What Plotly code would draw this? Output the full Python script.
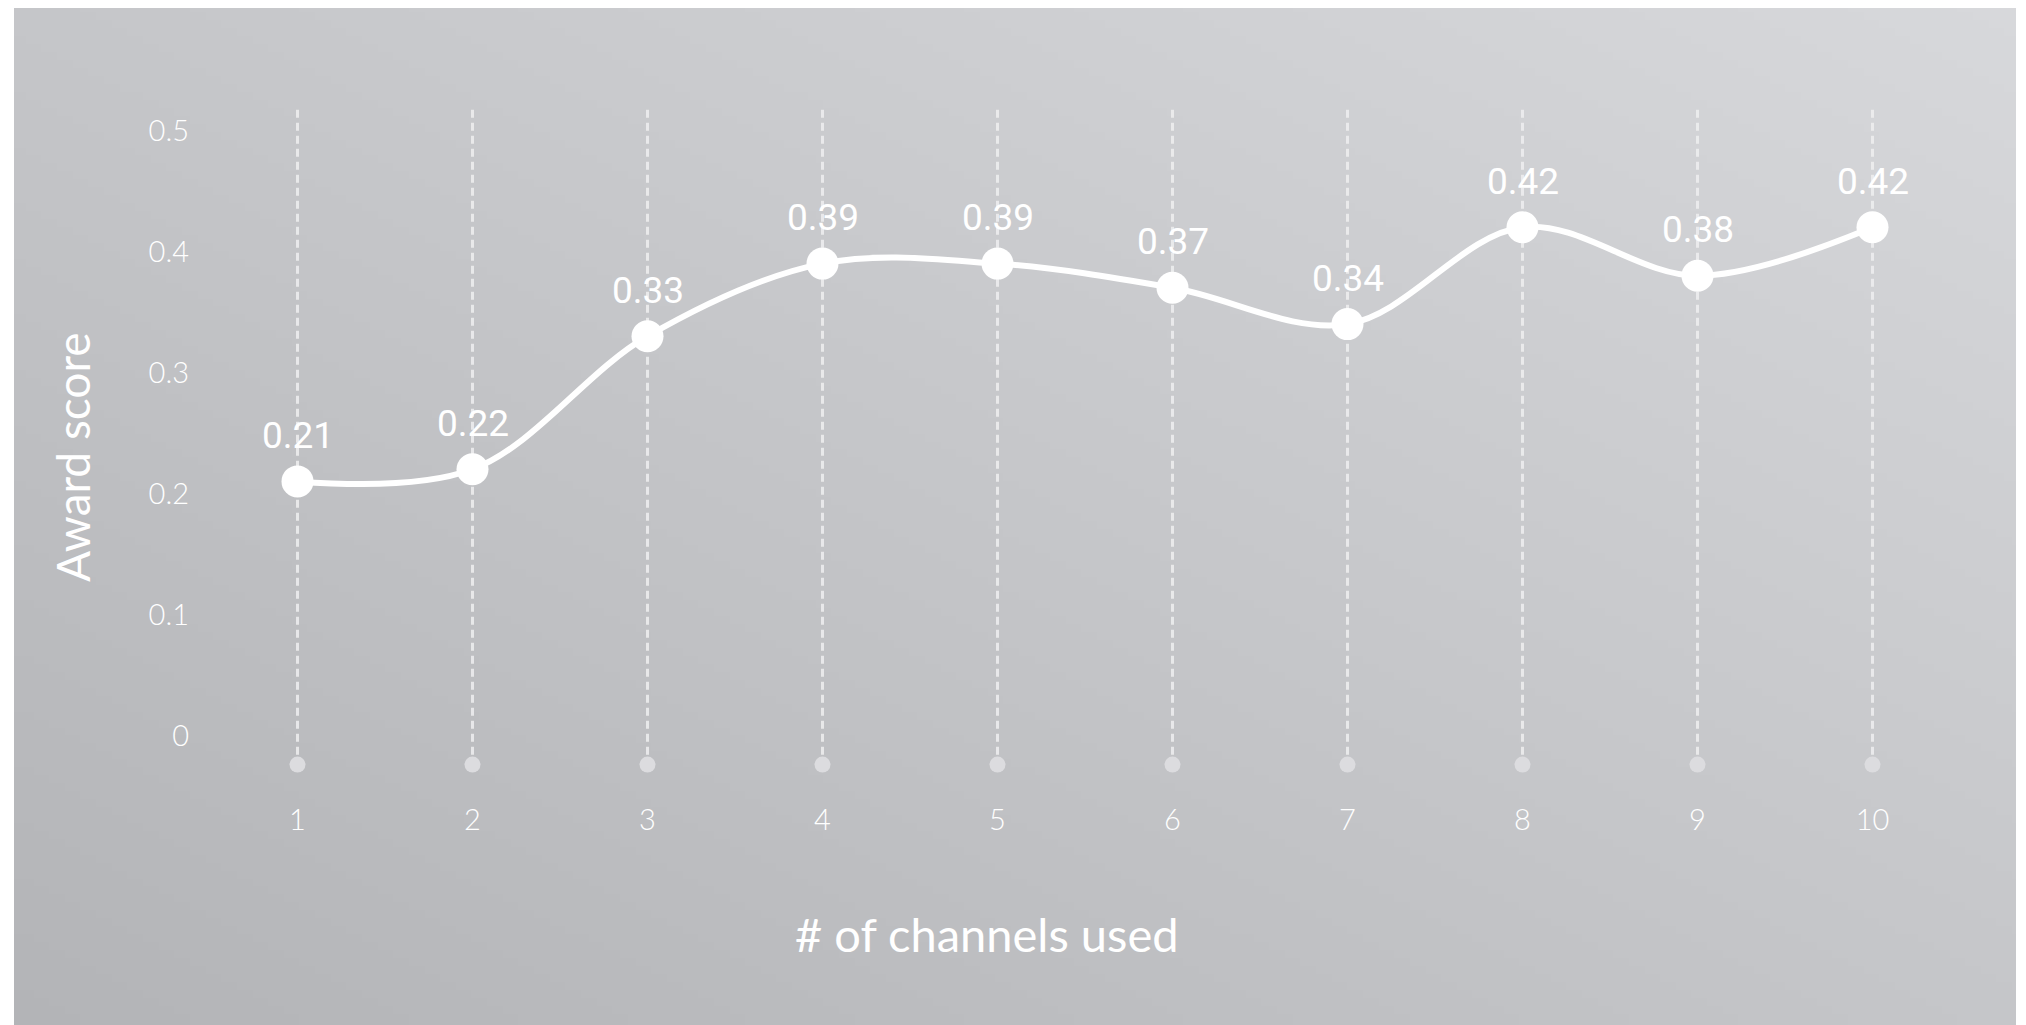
import base64
import struct
import zlib

import plotly.graph_objects as go

# Award score by number of channels used
channels = [1, 2, 3, 4, 5, 6, 7, 8, 9, 10]
award_score = [0.21, 0.22, 0.33, 0.39, 0.39, 0.37, 0.34, 0.42, 0.38, 0.42]
y_ticks = [0, 0.1, 0.2, 0.3, 0.4, 0.5]
y_tick_text = ["0", "0.1", "0.2", "0.3", "0.4", "0.5"]

W, H = 2026, 1025
M_L, M_R, M_T, M_B = 210, 66, 70, 229
PLOT_W = W - M_L - M_R
PLOT_H = H - M_T - M_B


def px_to_paper_x(px):
    return (px - M_L) / PLOT_W


def px_to_paper_y(py):
    return (H - M_B - py) / PLOT_H


def gradient_png(w, h):
    """Diagonal grey gradient: darker bottom-left, lighter top-right."""
    rows = []
    for j in range(h):
        v = j / (h - 1)
        row = bytearray([0])
        for i in range(w):
            u = i / (w - 1)
            c = 179 + 18 * u + 18 * (1 - v)
            r, g, b = int(round(c)), int(round(c + 1)), int(round(c + 4))
            row += bytes((min(r, 255), min(g, 255), min(b, 255)))
        rows.append(bytes(row))
    raw = b"".join(rows)

    def chunk(tag, data):
        body = tag + data
        return struct.pack(">I", len(data)) + body + struct.pack(">I", zlib.crc32(body) & 0xFFFFFFFF)

    png = b"\x89PNG\r\n\x1a\n"
    png += chunk(b"IHDR", struct.pack(">IIBBBBB", w, h, 8, 2, 0, 0, 0))
    png += chunk(b"IDAT", zlib.compress(raw, 9))
    png += chunk(b"IEND", b"")
    return "data:image/png;base64," + base64.b64encode(png).decode("ascii")


fig = go.Figure()

# dashed vertical guides for each category
for c in channels:
    fig.add_shape(
        type="line", xref="x", yref="y",
        x0=c, x1=c, y0=-0.016, y1=0.5186,
        line=dict(color="rgba(238,238,240,0.85)", width=3, dash="8px,5px"),
        layer="below",
    )

# small anchor dots at the foot of each guide
fig.add_trace(go.Scatter(
    x=channels, y=[-0.024] * len(channels),
    mode="markers",
    marker=dict(size=16, color="#dcdcdf", line=dict(width=0)),
    hoverinfo="skip", cliponaxis=False, showlegend=False,
))

# smoothed score line with markers
fig.add_trace(go.Scatter(
    x=channels, y=award_score,
    mode="lines+markers",
    line=dict(color="white", width=6, shape="spline", smoothing=1.0),
    marker=dict(size=32, color="white", line=dict(width=0)),
    hoverinfo="skip", cliponaxis=False, showlegend=False,
))

# value labels above each point
for c, v in zip(channels, award_score):
    fig.add_annotation(
        x=c, y=v, xref="x", yref="y",
        text=f"{v:.2f}", showarrow=False,
        yanchor="middle", xanchor="center", yshift=46,
        font=dict(family="Roboto", size=37, color="white"),
    )

# axis titles
fig.add_annotation(
    x=px_to_paper_x(987), y=px_to_paper_y(934), xref="paper", yref="paper",
    text="# of channels used", showarrow=False,
    xanchor="center", yanchor="middle",
    font=dict(family="Lato", size=47, color="white"),
)
fig.add_annotation(
    x=px_to_paper_x(72), y=px_to_paper_y(457), xref="paper", yref="paper",
    text="Award score", showarrow=False, textangle=-90,
    xanchor="center", yanchor="middle",
    font=dict(family="Lato", size=46, color="white"),
)

fig.add_layout_image(
    source=gradient_png(256, 128),
    xref="paper", yref="paper",
    x=px_to_paper_x(14), y=px_to_paper_y(8),
    sizex=(2016 - 14) / PLOT_W, sizey=(H - 8) / PLOT_H,
    xanchor="left", yanchor="top",
    sizing="stretch", layer="below",
)

tick_font = dict(family="Lato", size=29, color="white", weight=300)

fig.update_layout(
    width=W, height=H,
    margin=dict(l=M_L, r=M_R, t=M_T, b=M_B, pad=0),
    paper_bgcolor="white",
    plot_bgcolor="rgba(0,0,0,0)",
    hovermode=False,
    showlegend=False,
    xaxis=dict(
        range=[0.5, 10.5], tickvals=channels, ticktext=[str(c) for c in channels],
        showgrid=False, zeroline=False, showline=False, ticks="",
        tickfont=tick_font, ticklabelstandoff=4, fixedrange=True,
    ),
    yaxis=dict(
        range=[-0.05, 0.55], tickvals=y_ticks, ticktext=y_tick_text,
        showgrid=False, zeroline=False, showline=False, ticks="",
        tickfont=tick_font, ticklabelstandoff=20, fixedrange=True,
    ),
)

fig.write_html("out.html", config={"displayModeBar": False})
